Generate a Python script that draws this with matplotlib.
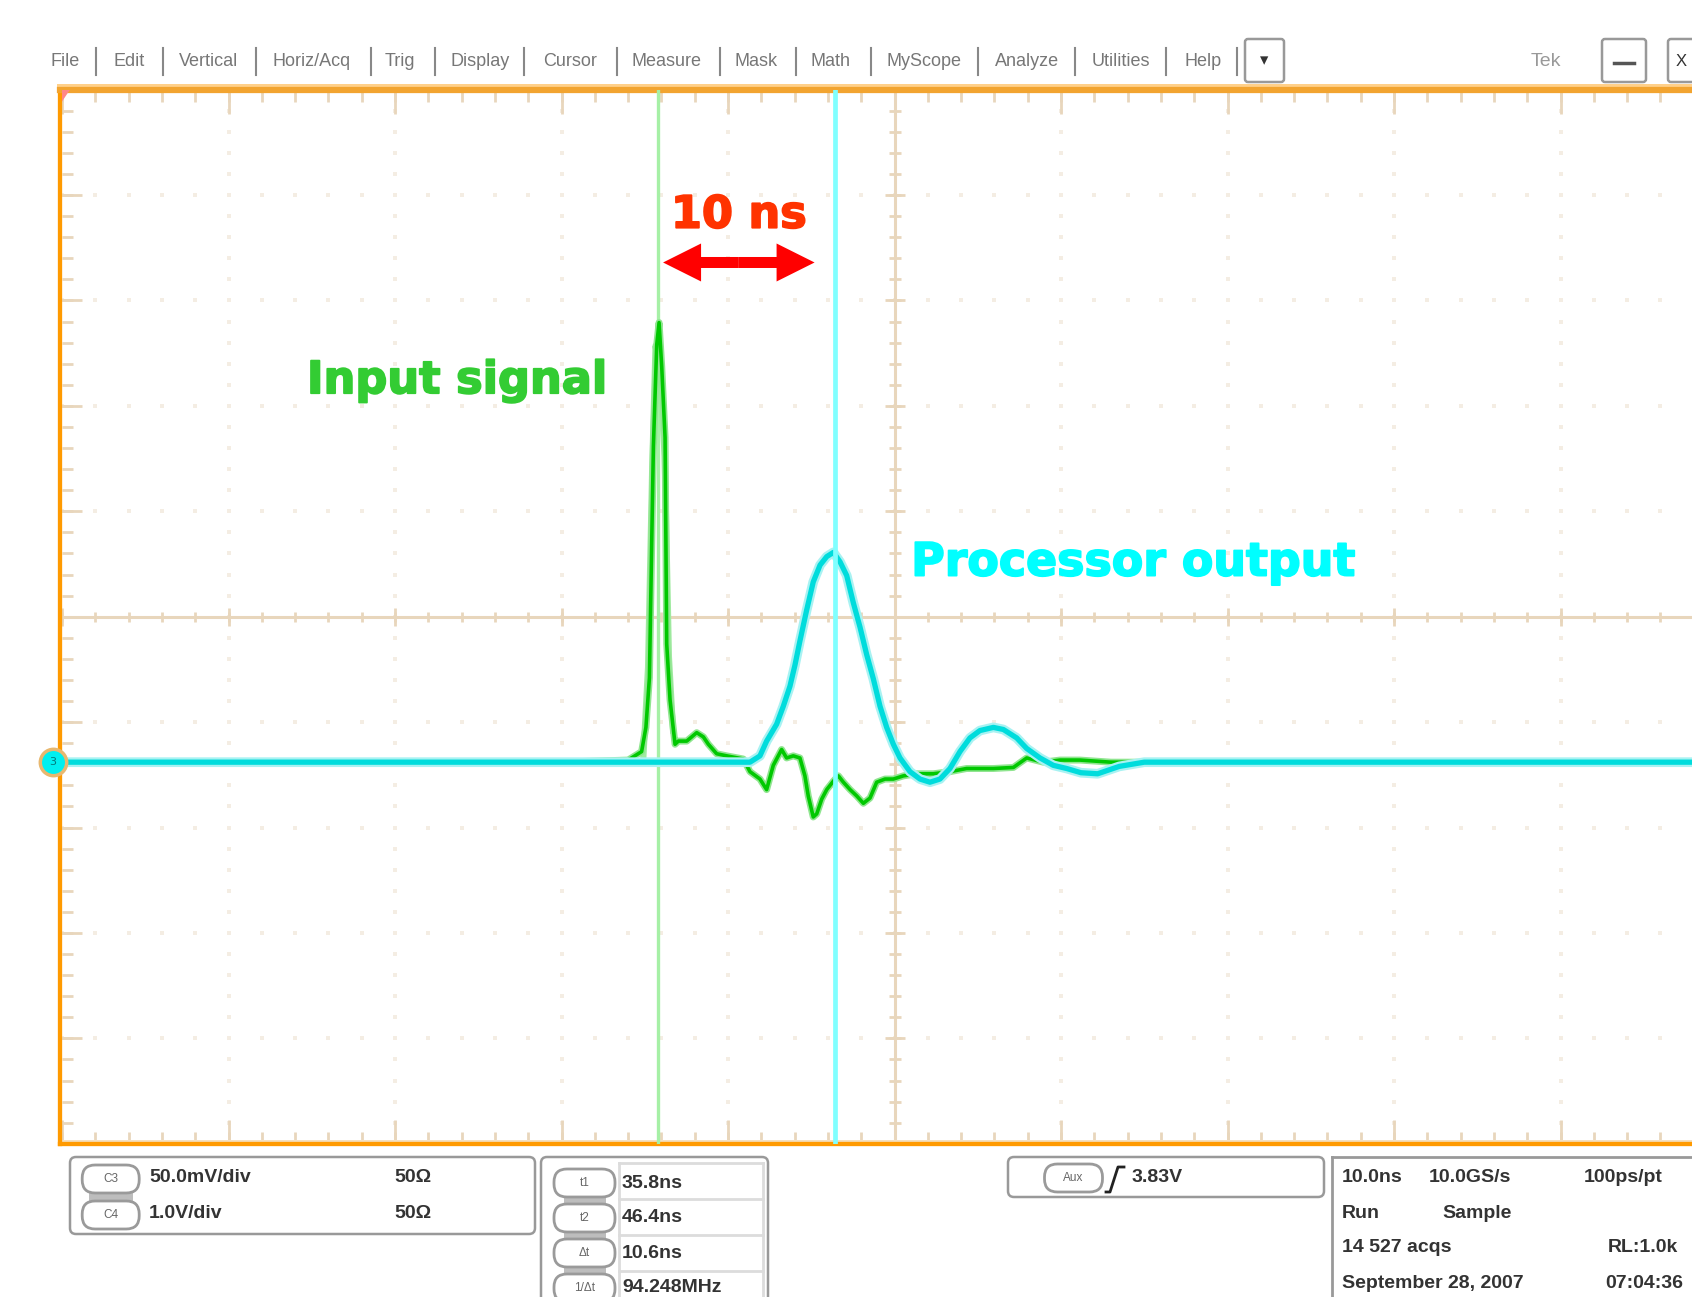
import numpy as np
import matplotlib
matplotlib.use('Agg')
import matplotlib.pyplot as plt
import matplotlib.patheffects as pe
from matplotlib.patches import FancyBboxPatch, Rectangle, Polygon


# ---- trace data: time [ns] vs. divisions above the ground marker ----
green_t = [0, 10, 20, 30, 34.0, 34.81, 35.07, 35.28, 35.42, 35.52, 35.72, 35.86, 36.02, 36.22,
           36.32, 36.52, 36.82, 37.02, 37.52, 38.12, 38.52, 38.82, 39.32, 39.92, 40.92, 41.32,
           41.92, 42.32, 42.72, 43.22, 43.52, 43.92, 44.32, 44.62, 44.82, 45.12, 45.33, 45.63,
           45.93, 46.33, 46.63, 46.93, 47.33, 47.73, 48.13, 48.53, 48.93, 49.43, 49.93, 50.53,
           51.33, 52.33, 53.33, 54.33, 55.94, 57.14, 57.94, 58.94, 59.94, 61.14, 63.0, 70, 80, 90, 100]
green_a = [0, 0, 0, 0, 0.02, 0.10, 0.33, 0.80, 2.10, 3.00, 3.96, 4.17, 3.75, 3.08,
           1.12, 0.59, 0.17, 0.20, 0.20, 0.28, 0.24, 0.17, 0.08, 0.06, 0.03, -0.09,
           -0.16, -0.26, -0.03, 0.12, 0.04, 0.06, 0.04, -0.13, -0.32, -0.52, -0.49, -0.35,
           -0.26, -0.18, -0.13, -0.19, -0.26, -0.32, -0.39, -0.34, -0.19, -0.16, -0.16, -0.13,
           -0.11, -0.11, -0.09, -0.06, -0.06, -0.05, 0.04, 0.00, 0.02, 0.02, 0.0, 0, 0, 0, 0]

# lighter persistence of the input spike
ghost_t = [34.9, 35.2, 35.45, 35.65, 35.9, 36.2, 36.45, 36.7]
ghost_a = [0.0, 0.9, 2.8, 3.95, 3.7, 2.9, 1.0, 0.3]

cyan_t = [0, 10, 20, 30, 40, 41.32, 41.92, 42.32, 42.92, 43.32, 43.72, 44.02, 44.32, 44.72,
          45.12, 45.53, 45.93, 46.33, 46.73, 47.13, 47.53, 47.93, 48.33, 48.73, 49.13, 49.53,
          49.93, 50.33, 50.93, 51.53, 52.13, 52.73, 53.33, 53.93, 54.53, 55.13, 55.94, 56.54,
          57.34, 57.94, 58.74, 59.54, 60.34, 61.2, 62.2, 63.5, 65, 75, 85, 100]
cyan_a = [0, 0, 0, 0, 0, 0.0, 0.06, 0.20, 0.36, 0.53, 0.72, 0.92, 1.15, 1.44,
          1.71, 1.87, 1.95, 1.99, 1.90, 1.77, 1.51, 1.28, 1.02, 0.79, 0.53, 0.33,
          0.17, 0.04, -0.09, -0.16, -0.19, -0.16, -0.06, 0.10, 0.23, 0.30, 0.33, 0.31,
          0.23, 0.13, 0.04, -0.03, -0.06, -0.10, -0.11, -0.04, 0, 0, 0, 0]

ground = -1.38          # ground marker, divisions from centre
t1, t2 = 35.8, 46.4     # cursor positions [ns]

menu_items = ['File', 'Edit', 'Vertical', 'Horiz/Acq', 'Trig', 'Display', 'Cursor', 'Measure',
              'Mask', 'Math', 'MyScope', 'Analyze', 'Utilities', 'Help']
menu_x = [65, 129, 208.5, 312, 399.5, 480, 570.5, 666.5, 756.4, 831, 924, 1027.5, 1121, 1203]
menu_sep = [96.4, 163, 255.5, 371.4, 434.6, 524, 617, 720.4, 796.2, 870.8, 978.3, 1074.7, 1166, 1237]

chan_labels = ['C3', 'C4']
chan_scale = ['50.0mV/div', '1.0V/div']
chan_imp = ['50\u03a9', '50\u03a9']
cursor_labels = ['t1', 't2', '\u0394t', '1/\u0394t']
cursor_values = ['35.8ns', '46.4ns', '10.6ns', '94.248MHz']
acq_rows = [('10.0ns', '10.0GS/s', '100ps/pt'),
            ('Run', 'Sample', ''),
            ('14 527 acqs', '', 'RL:1.0k'),
            ('September 28, 2007', '', '07:04:36')]


W, H = 1692, 1297
fig = plt.figure(figsize=(W / 100, H / 100), dpi=100)
renderer = fig.canvas.get_renderer()

ui = fig.add_axes([0, 0, 1, 1], zorder=0)
ui.set_xlim(0, W)
ui.set_ylim(H, 0)
ui.axis('off')

x0_px = 59.5
ax = fig.add_axes([x0_px / W, 1 - 1143.8 / H, (1727 - x0_px) / W, 1054.2 / H], zorder=2)
px = 100 / 1665.0      # ns per pixel
py = 10 / 1054.2       # div per pixel
ax.set_xlim(-(62 - x0_px) * px, 100)
ax.set_ylim(-5, 5)
ax.set_xticks([])
ax.set_yticks([])

for s in ['left', 'bottom']:
    ax.spines[s].set_color('#ff9a00')
    ax.spines[s].set_linewidth(3.1)
ax.spines['top'].set_color('#f2a430')
ax.spines['top'].set_linewidth(4.5)
ax.spines['right'].set_visible(False)

ui.add_patch(Rectangle((57, 83.5), W - 57, 4, color='#ffd08a', lw=0))

# ---- graticule ----
grat = '#e8d6bc'
dot = '#f4ede3'
major_x = np.arange(0, 101, 10)
major_y = np.arange(-5, 6, 1)
minor_x = np.arange(0, 100.1, 2)
minor_y = np.round(np.arange(-5, 5.01, 0.2), 2)

for xv in major_x[1:-1]:
    if xv != 50:
        ax.plot(np.full(len(minor_y), xv), minor_y, ls='none', marker='s', ms=2.2,
                color=dot, mew=0, zorder=1)
for yv in major_y[1:-1]:
    if yv != 0:
        ax.plot(minor_x, np.full(len(minor_x), yv), ls='none', marker='s', ms=2.2,
                color=dot, mew=0, zorder=1)

ax.axhline(0, color=grat, lw=2.2, zorder=1)
ax.axvline(50, color=grat, lw=2.2, zorder=1)
ax.vlines(minor_x, -5 * py, 5 * py, color=grat, lw=2, zorder=1)
ax.vlines(major_x, -9 * py, 9 * py, color=grat, lw=2, zorder=1)
ax.hlines(minor_y, 50 - 6 * px, 50 + 6 * px, color=grat, lw=2, zorder=1)
ax.hlines(major_y, 50 - 10 * px, 50 + 10 * px, color=grat, lw=2, zorder=1)
# ticks along the border
ax.vlines(minor_x, 5 - 12 * py, 5, color=grat, lw=2, zorder=1)
ax.vlines(major_x, 5 - 24 * py, 5, color=grat, lw=2, zorder=1)
ax.vlines(minor_x, -5, -5 + 12 * py, color=grat, lw=2, zorder=1)
ax.vlines(major_x, -5, -5 + 24 * py, color=grat, lw=2, zorder=1)
ax.hlines(minor_y, 0, 11 * px, color=grat, lw=2, zorder=1)
ax.hlines(major_y, 0, 20 * px, color=grat, lw=2, zorder=1)
ax.axhspan(-5, -5 + 4 * py, color='#f4dfbf', lw=0, zorder=1)

# corner mark
ax.add_patch(Polygon([(0, 5), (8 * px, 5), (0, 5 - 12 * py)], closed=True,
                     color='#ff8888', lw=0, zorder=3))

# ---- cursors and traces ----
ax.axvline(t1, color='#a6f0a6', lw=2.4, zorder=2.6)

ax.plot(ghost_t, np.array(ghost_a) + ground, color='#a0eaa0', lw=4.5, zorder=3)
ax.plot(green_t, np.array(green_a) + ground, color='#8fe58f', lw=5, zorder=3.2)
ax.plot(green_t, np.array(green_a) + ground, color='#00c800', lw=2.6, zorder=3.4)

ax.plot(cyan_t, np.array(cyan_a) + ground, color='#a8f2f2', lw=7, zorder=4)
ax.plot(cyan_t, np.array(cyan_a) + ground, color='#00dcdc', lw=3.8, zorder=4.2)

ax.axvline(t2, color='#80ffff', lw=3.4, zorder=5)

# ground marker
ax.plot([-0.54], [ground], marker='o', ms=19, mfc='#00f0f0', mec='#e8b870', mew=2.5,
        clip_on=False, zorder=10)
ax.text(-0.54, ground, '3', fontsize=8, color='#007a7a', ha='center', va='center',
        clip_on=False, zorder=11)

# ---- annotations ----
arr_y = 3.36
arr_l, arr_r = 36.1, 45.2
mid = (arr_l + arr_r) / 2
for d in (-1, 1):
    ax.arrow(mid, arr_y, d * (arr_r - arr_l) / 2, 0, width=11 * py, head_width=38 * py,
             head_length=38 * px, length_includes_head=True, color='#ff0000', lw=0, zorder=8)


def fitted(x, y, s, width_px, color, **kw):
    t = ax.text(x, y, s, fontsize=33, family='DejaVu Sans', fontweight='bold', color=color,
                va='baseline', zorder=8, **kw)
    w = t.get_window_extent(renderer).width
    t.set_fontsize(33 * (width_px - 2) / w)
    t.set_path_effects([pe.Stroke(linewidth=1.3, foreground=color, joinstyle='round'),
                        pe.Normal()])
    return t


fitted(40.65, 3.69, '10 ns', 138, '#ff3300', ha='center')
fitted(14.71, 2.12, 'Input signal', 303, '#33cc33', ha='left')
fitted(51.0, 0.39, 'Processor output', 447, '#00ffff', ha='left')

# ---- menu bar ----
for name, xc in zip(menu_items, menu_x):
    ui.text(xc, 61, name, fontsize=13, family='Liberation Sans', color='#777777',
            ha='center', va='center')
for xs in menu_sep:
    ui.plot([xs, xs], [47.7, 75], color='#888888', lw=1.5)


def box(x0, y0, x1, y1, r=3, ec='#999999', lw=1.8, fc='white'):
    ui.add_patch(FancyBboxPatch((x0, y0), x1 - x0, y1 - y0,
                                boxstyle='round,pad=0,rounding_size=%g' % r,
                                ec=ec, fc=fc, lw=lw))


box(1245, 39, 1284, 82)
ui.text(1264.5, 60, '\u25be', fontsize=12, color='#333333', ha='center', va='center')
ui.text(1546, 61, 'Tek', fontsize=14, family='Liberation Sans', color='#999999',
        ha='center', va='center')
box(1602, 39, 1646, 82)
ui.plot([1614, 1634], [63, 63], color='#555555', lw=2.5)
box(1668, 39, 1712, 82)
ui.text(1681, 61, 'X', fontsize=12, family='Liberation Sans', color='#333333',
        ha='center', va='center')


# ---- readouts at the bottom ----
def pill(xc, yc, label, w=57, h=28):
    box(xc - w / 2, yc - h / 2, xc + w / 2, yc + h / 2, r=13, ec='#9a9a9a', lw=2)
    ui.text(xc, yc, label, fontsize=8.5, color='#666666', ha='center', va='center',
            family='Liberation Sans')


rd = dict(fontsize=14, fontweight='bold', family='Liberation Sans', color='#333333',
          va='center', ha='left')

box(70, 1157, 535, 1234, r=6)
ui.add_patch(Rectangle((89, 1189), 44, 14, color='#bdbdbd', lw=0))
for i, (c, sc, imp) in enumerate(zip(chan_labels, chan_scale, chan_imp)):
    yc = 1179 + 36 * i
    pill(110.7, yc, c)
    ui.text(149, yc - 1, sc, **rd)
    ui.text(394, yc - 1, imp, **rd)

box(541, 1157, 768, 1320, r=6)
ui.plot([619, 619], [1163, 1297], color='#dcdcdc', lw=2)
ui.plot([763, 763], [1163, 1297], color='#dcdcdc', lw=2)
ui.plot([619, 763], [1163, 1163], color='#dcdcdc', lw=2)
for yl in [1199, 1235, 1271]:
    ui.plot([619, 763], [yl, yl], color='#dcdcdc', lw=2)
for yl in [1194, 1229, 1264]:
    ui.add_patch(Rectangle((564, yl), 42, 13, color='#bdbdbd', lw=0))
for i, (c, v) in enumerate(zip(cursor_labels, cursor_values)):
    yc = 1183 + 35 * i
    pill(584.5, yc, c, w=61)
    ui.text(622, yc, v, **rd)

box(1008, 1157, 1324, 1197, r=6)
pill(1073.5, 1178, 'Aux', w=58)
ui.plot([1106, 1110, 1118, 1124], [1192, 1192, 1167, 1167], color='#222222', lw=2)
ui.text(1132, 1177, '3.83V', **rd)

ui.plot([1332, 1332], [1157, 1297], color='#999999', lw=2)
ui.plot([1332, W], [1157, 1157], color='#999999', lw=2)
acq_x = [1342, 1429, 1584]
for j, row in enumerate(acq_rows):
    yc = 1178 + 35 * j
    for k, txt in enumerate(row):
        if not txt:
            continue
        xk = acq_x[k]
        if j == 1 and k == 1:
            xk = 1442
        if j == 2 and k == 2:
            xk = 1608
        if j == 3 and k == 2:
            xk = 1605
        ui.text(xk, yc, txt, **rd)

fig.savefig('out.png', dpi=100)
